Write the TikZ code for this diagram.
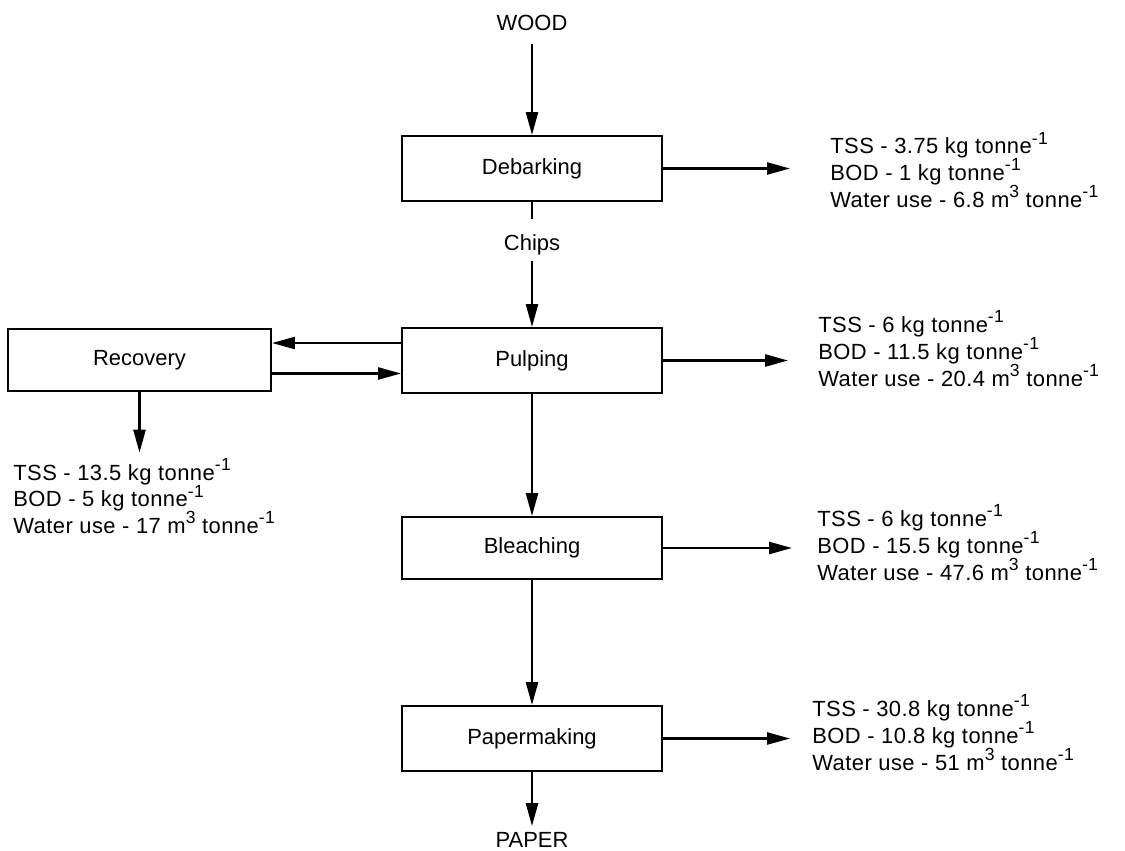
\documentclass[tikz,border=0pt]{standalone}
\usepackage{fontspec}
\setmainfont{Liberation Sans}
\newfontfamily\loadfont{Liberation Sans}[LetterSpace=2]
\newcommand{\upidx}[1]{\raisebox{0.45em}{\fontsize{10}{10}\selectfont #1}}
\usetikzlibrary{arrows.meta}

\begin{document}
\begin{tikzpicture}[
    x=0.02cm, y=-0.02cm,
    box/.style={rectangle, draw, line width=1.1pt, minimum width=5.2cm, minimum height=1.3cm, align=center, font=\fontsize{12.5}{15}\selectfont},
    endtext/.style={inner sep=0.1cm, font=\fontsize{12.5}{15}\selectfont},
    loads/.style={align=left, anchor=west, inner sep=0, font=\loadfont\fontsize{12.5}{15.3}\selectfont},
    arrow/.style={-{Triangle[length=4.6mm,width=2.4mm]}, line width=1.4pt},
    plain/.style={line width=1.4pt}
]
\useasboundingbox (0,0) rectangle (1125,851);

% Raw material and product
\node[endtext] (wood) at (532,23) {WOOD};
\node[endtext] (chips) at (532,245) {Chips};
\node[endtext, inner sep=0] (out) at (532,840) {PAPER};

% Process steps
\node[box] (debark) at (532,168.5) {Debarking};
\node[box] (pulp) at (532,360.5) {Pulping};
\node[box, minimum width=5.26cm, minimum height=1.24cm] (recov) at (139.5,360) {Recovery};
\node[box, minimum height=1.24cm] (bleach) at (532,548) {Bleaching};
\node[box] (paper) at (532,738.5) {Papermaking};

% Effluent loads
\node[loads] (debout) at (830,170) {TSS - 3.75 kg tonne\upidx{-1}\\BOD - 1 kg tonne\upidx{-1}\\Water use - 6.8 m\upidx{3} tonne\upidx{-1}};
\node[loads] (pulpout) at (818,348.5) {TSS - 6 kg tonne\upidx{-1}\\BOD - 11.5 kg tonne\upidx{-1}\\Water use - 20.4 m\upidx{3} tonne\upidx{-1}};
\node[loads] (recovout) at (13,496) {TSS - 13.5 kg tonne\upidx{-1}\\BOD - 5 kg tonne\upidx{-1}\\Water use - 17 m\upidx{3} tonne\upidx{-1}};
\node[loads] (bleachout) at (817,542.5) {TSS - 6 kg tonne\upidx{-1}\\BOD - 15.5 kg tonne\upidx{-1}\\Water use - 47.6 m\upidx{3} tonne\upidx{-1}};
\node[loads] (paperout) at (812,732.5) {TSS - 30.8 kg tonne\upidx{-1}\\BOD - 10.8 kg tonne\upidx{-1}\\Water use - 51 m\upidx{3} tonne\upidx{-1}};

% Main line
\draw[arrow, shorten <=0.15cm] (wood) -- (debark);
\draw[plain, shorten >=0.2cm] (debark) -- (chips);
\draw[arrow] (chips) -- (pulp);
\draw[arrow] (pulp) -- (bleach);
\draw[arrow] (bleach) -- (paper);
\draw[arrow, shorten >=0.12cm] (paper) -- (out);

% Recovery loop
\draw[arrow] ([yshift=0.35cm]pulp.west) -- ([yshift=0.35cm]pulp.west -| recov.east);
\draw[arrow] ([yshift=-0.27cm]recov.east) -- ([yshift=-0.27cm]recov.east -| pulp.west);
\draw[arrow, shorten >=0.1cm] (recov) -- (recov.south |- recovout.north);

% Effluent arrows
\draw[arrow] (debark.east) -- ([xshift=-0.8cm]debark.east -| debout.west);
\draw[arrow] (pulp.east) -- ([xshift=-0.6cm]pulp.east -| pulpout.west);
\draw[arrow] (bleach.east) -- ([xshift=-0.5cm]bleach.east -| bleachout.west);
\draw[arrow] (paper.east) -- ([xshift=-0.44cm]paper.east -| paperout.west);

\end{tikzpicture}
\end{document}
